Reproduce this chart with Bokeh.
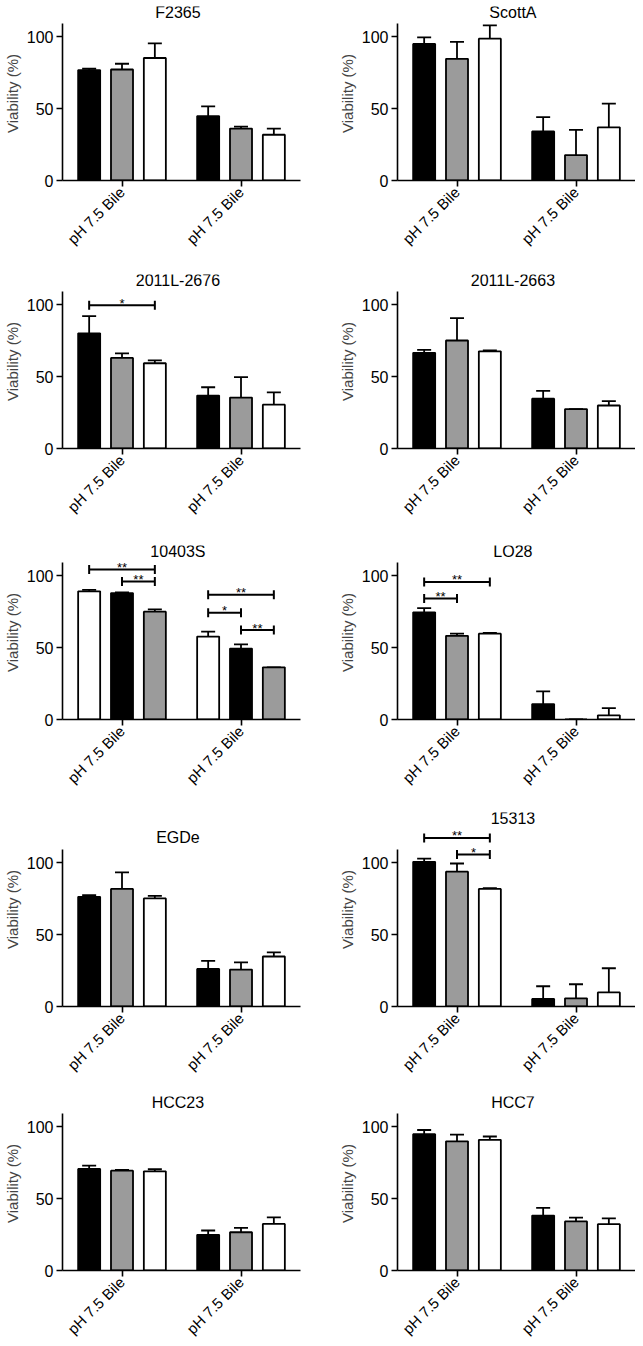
import math
from bokeh.plotting import figure
from bokeh.models import Range1d, FixedTicker, Whisker, TeeHead, ColumnDataSource, Label
from bokeh.layouts import column, row
from bokeh.transform import dodge
from bokeh.embed import file_html
from bokeh.resources import INLINE
from bokeh.core.properties import value

# ---------------- data ----------------
groups = ["pH 7.5 Bile", "pH 7.5 Bile"]
BLACK, GRAY, WHITE = "#000000", "#9b9b9b", "#ffffff"

# each panel: colors of the three bars, means [bar][group], upward SD [bar][group]
f2365_colors = [BLACK, GRAY, WHITE]
f2365_means = [[76.8, 44.8], [77.2, 36.1], [85.2, 31.8]]
f2365_errs = [[0.9, 6.8], [4.0, 1.4], [10.2, 4.3]]
f2365_sig = []

scotta_colors = [BLACK, GRAY, WHITE]
scotta_means = [[95.0, 34.1], [84.6, 17.7], [98.6, 37.0]]
scotta_errs = [[4.5, 10.0], [11.8, 17.5], [9.3, 16.4]]
scotta_sig = []

l2676_colors = [BLACK, GRAY, WHITE]
l2676_means = [[80.1, 36.8], [63.0, 35.4], [59.3, 30.5]]
l2676_errs = [[12.0, 5.8], [3.1, 14.2], [2.0, 8.5]]
l2676_sig = [(0, 0, 2, 99.7, "*")]

l2663_colors = [BLACK, GRAY, WHITE]
l2663_means = [[66.5, 34.6], [75.1, 27.4], [67.6, 29.9]]
l2663_errs = [[2.1, 5.5], [15.6, 0.0], [0.7, 3.1]]
l2663_sig = []

s10403_colors = [WHITE, BLACK, GRAY]
s10403_means = [[89.1, 57.7], [87.9, 49.3], [75.0, 36.3]]
s10403_errs = [[1.1, 3.4], [0.5, 3.0], [1.6, 0.0]]
s10403_sig = [(0, 0, 2, 104.3, "**"), (0, 1, 2, 95.9, "**"),
              (1, 0, 2, 86.8, "**"), (1, 0, 1, 74.3, "*"), (1, 1, 2, 62.2, "**")]

lo28_colors = [BLACK, GRAY, WHITE]
lo28_means = [[74.5, 10.7], [58.2, 0.0], [59.7, 2.9]]
lo28_errs = [[2.9, 8.8], [1.5, 0.0], [0.5, 5.0]]
lo28_sig = [(0, 0, 2, 95.7, "**"), (0, 0, 1, 84.2, "**")]

egde_colors = [BLACK, GRAY, WHITE]
egde_means = [[76.3, 26.1], [81.8, 25.7], [75.2, 34.8]]
egde_errs = [[1.2, 5.7], [11.6, 5.0], [1.8, 2.9]]
egde_sig = []

s15313_colors = [BLACK, GRAY, WHITE]
s15313_means = [[100.7, 5.3], [93.8, 5.7], [81.8, 9.8]]
s15313_errs = [[2.2, 8.8], [5.7, 9.8], [0.6, 16.8]]
s15313_sig = [(0, 0, 2, 117.3, "**"), (0, 1, 2, 105.7, "*")]

hcc23_colors = [BLACK, GRAY, WHITE]
hcc23_means = [[70.6, 24.8], [69.4, 26.6], [69.0, 32.4]]
hcc23_errs = [[2.3, 3.0], [0.5, 3.0], [1.4, 4.6]]
hcc23_sig = []

hcc7_colors = [BLACK, GRAY, WHITE]
hcc7_means = [[94.8, 38.2], [89.8, 34.1], [90.9, 32.2]]
hcc7_errs = [[2.9, 5.4], [4.7, 2.7], [2.3, 4.1]]
hcc7_sig = []

# ---------------- styling ----------------
FONT = "Liberation Sans"
OFFS = [-0.276, 0.0, 0.276]
BW = 0.185
K = 1.438  # px per % unit


def panel(title, colors, means, errs, sig, left, ytop, title_y, bottom):
    p = figure(frame_width=238, frame_height=round(ytop * K),
               x_range=Range1d(-0.5, 1.5), y_range=Range1d(0, ytop),
               output_backend="svg", toolbar_location=None,
               min_border_left=54 if left else 85, min_border_right=12 if left else 0,
               min_border_top=6, min_border_bottom=bottom)
    p.outline_line_color = None
    p.xgrid.visible = False
    p.ygrid.visible = False

    for i in range(3):
        src = ColumnDataSource(dict(x=[0, 1], top=means[i],
                                    upper=[m + e for m, e in zip(means[i], errs[i])]))
        xs = dodge("x", OFFS[i], range=p.x_range)
        p.add_layout(Whisker(base=xs, lower="top", upper="upper", source=src,
                             dimension="height", line_width=1.8, line_color="black",
                             upper_head=TeeHead(size=14, line_width=1.8, line_color="black"),
                             lower_head=None))
        p.vbar(x=xs, top="top", width=BW, source=src, fill_color=colors[i],
               line_color="black", line_width=1.8)

    if sig:
        x0 = [g + OFFS[a] for g, a, b, y, t in sig]
        x1 = [g + OFFS[b] for g, a, b, y, t in sig]
        bsrc = ColumnDataSource(dict(x0=x0, x1=x1, xm=[(a + b) / 2 for a, b in zip(x0, x1)],
                                     y=[s[3] for s in sig], lab=[s[4] for s in sig]))
        p.add_layout(Whisker(dimension="width", base="y", lower="x0", upper="x1", source=bsrc,
                             line_width=2, line_color="black",
                             lower_head=TeeHead(size=9, line_width=2, line_color="black"),
                             upper_head=TeeHead(size=9, line_width=2, line_color="black")))
        p.text(x="xm", y="y", text="lab", source=bsrc, text_align="center",
               text_baseline="alphabetic", y_offset=-2, text_font_size="13px",
               text_font=value(FONT), text_color="black")

    p.add_layout(Label(x=0.47, y=title_y, text=title, text_align="center",
                       text_baseline="middle", text_font_size="16px",
                       text_font=FONT, text_color="black"))

    ya = p.yaxis[0]
    ya.ticker = FixedTicker(ticks=[0, 50, 100])
    ya.bounds = (0, 109)
    ya.axis_label = "Viability (%)"
    ya.axis_label_text_font = FONT
    ya.axis_label_text_font_size = "15px"
    ya.axis_label_text_font_style = "normal"
    ya.axis_label_standoff = 3

    xa = p.xaxis[0]
    xa.ticker = FixedTicker(ticks=[0, 1])
    xa.major_label_overrides = {0: groups[0], 1: groups[1]}
    xa.major_label_orientation = math.pi / 4

    for ax in (xa, ya):
        ax.axis_line_width = 1.6
        ax.axis_line_color = "black"
        ax.major_tick_line_width = 1.6
        ax.major_tick_line_color = "black"
        ax.major_tick_in = 0
        ax.major_tick_out = 6
        ax.minor_tick_line_color = None
        ax.major_label_text_font = FONT
        ax.major_label_text_font_size = "15px"
        ax.major_label_text_color = "black"
        ax.major_label_standoff = 3
    ya.major_label_text_font_size = "16px"
    return p


rows = [
    (("F2365", f2365_colors, f2365_means, f2365_errs, f2365_sig, 117),
     ("ScottA", scotta_colors, scotta_means, scotta_errs, scotta_sig, 117), 121, 88),
    (("2011L-2676", l2676_colors, l2676_means, l2676_errs, l2676_sig, 116.5),
     ("2011L-2663", l2663_colors, l2663_means, l2663_errs, l2663_sig, 116.5), 121, 91),
    (("10403S", s10403_colors, s10403_means, s10403_errs, s10403_sig, 116.5),
     ("LO28", lo28_colors, lo28_means, lo28_errs, lo28_sig, 116.5), 121, 87),
    (("EGDe", egde_colors, egde_means, egde_errs, egde_sig, 117.5),
     ("15313", s15313_colors, s15313_means, s15313_errs, s15313_sig, 131), 135, 84),
    (("HCC23", hcc23_colors, hcc23_means, hcc23_errs, hcc23_sig, 117),
     ("HCC7", hcc7_colors, hcc7_means, hcc7_errs, hcc7_sig, 117), 121, 62),
]

row_layouts = []
for lspec, rspec, ytop, bottom in rows:
    pl = panel(lspec[0], lspec[1], lspec[2], lspec[3], lspec[4], True, ytop, lspec[5], bottom)
    pr = panel(rspec[0], rspec[1], rspec[2], rspec[3], rspec[4], False, ytop, rspec[5], bottom)
    row_layouts.append(row(pl, pr))

layout = column(*row_layouts)
open("out.html", "w").write(file_html(layout, INLINE))
